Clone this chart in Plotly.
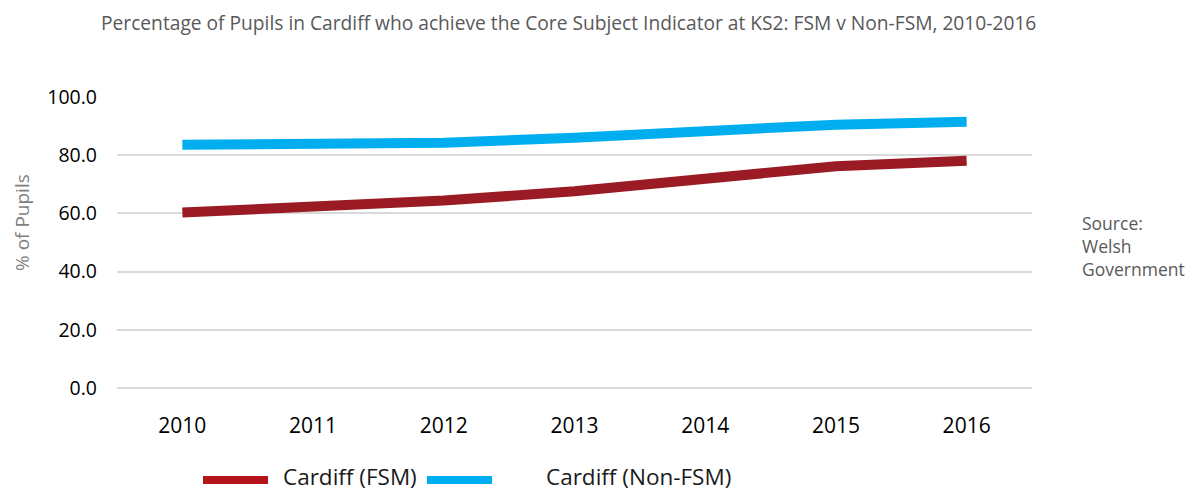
import plotly.graph_objects as go

years = ["2010", "2011", "2012", "2013", "2014", "2015", "2016"]
fsm = [60.3, 62.3, 64.4, 67.6, 72.2, 76.2, 78.1]
non_fsm = [83.6, 84.0, 84.3, 86.0, 88.6, 90.5, 91.5]
y_ticks = [0, 20, 40, 60, 80, 100]
y_tick_text = ["0.0", "20.0", "40.0", "60.0", "80.0", "100.0"]

FONT = "Open Sans"
RED = "#9A1B24"
RED_LEG = "#B5121B"
BLUE = "#00AEEF"

# page pixel geometry of the plot area (page has an 8px body margin)
PL, PR, PT, PB = 117, 1032, 97, 388
PW, PH = PR - PL, PB - PT


def px(x):
    return (x - PL) / PW


def py(y):
    return (PB - y) / PH


fig = go.Figure()
fig.add_trace(go.Scatter(x=years, y=fsm, mode="lines", name="Cardiff (FSM)",
                         line=dict(color=RED, width=10), showlegend=False))
fig.add_trace(go.Scatter(x=years, y=non_fsm, mode="lines", name="Cardiff (Non-FSM)",
                         line=dict(color=BLUE, width=10), showlegend=False))

W, H = 1190, 484
fig.update_layout(
    width=W, height=H,
    margin=dict(l=PL - 8, r=W - (PR - 8), t=PT - 8, b=H - (PB - 8)),
    paper_bgcolor="white", plot_bgcolor="white",
    font=dict(family=FONT, size=17, color="#000000"),
)
fig.update_xaxes(type="category", range=[-0.5, 6.5], showgrid=False, showline=False,
                 ticks="", ticklabelstandoff=23, tickfont=dict(size=21, color="#000000"))
fig.update_yaxes(range=[0, 100], tickvals=y_ticks, ticktext=y_tick_text,
                 showgrid=True, gridcolor="#D9D9D9", gridwidth=2,
                 zeroline=True, zerolinecolor="#D9D9D9", zerolinewidth=2,
                 showline=False, ticks="", ticklabelstandoff=19,
                 tickfont=dict(size=19.5, color="#000000"))

# title
fig.add_annotation(text="Percentage of Pupils in Cardiff who achieve the Core Subject Indicator at KS2: FSM v Non-FSM, 2010-2016",
                   xref="paper", yref="paper", x=px(568), y=py(22),
                   showarrow=False, xanchor="center", yanchor="middle",
                   font=dict(family=FONT, size=19.2, color="#595959"))
# y-axis title
fig.add_annotation(text="% of Pupils", textangle=-90, xref="paper", yref="paper",
                   x=px(22), y=py(223), showarrow=False,
                   xanchor="center", yanchor="middle",
                   font=dict(family=FONT, size=19, color="#7F7F7F"))
# source
fig.add_annotation(text="Source:<br>Welsh<br>Government", xref="paper", yref="paper",
                   x=px(1080), y=py(246), showarrow=False,
                   xanchor="left", yanchor="middle", align="left",
                   font=dict(family=FONT, size=17.5, color="#595959"))

# legend (manual)
leg_line_y = py(480)
leg_text_y = py(476.5)
for x0, x1, col, tx, label in [(203, 268, RED_LEG, 281, "Cardiff (FSM)"),
                               (427, 492, BLUE, 544, "Cardiff (Non-FSM)")]:
    fig.add_shape(type="line", xref="paper", yref="paper",
                  x0=px(x0), x1=px(x1), y0=leg_line_y, y1=leg_line_y,
                  line=dict(color=col, width=8))
    fig.add_annotation(text=label, xref="paper", yref="paper", x=px(tx), y=leg_text_y,
                       showarrow=False, xanchor="left", yanchor="middle",
                       font=dict(family=FONT, size=22.5, color="#1A1A1A"))

fig.write_html("out.html")
